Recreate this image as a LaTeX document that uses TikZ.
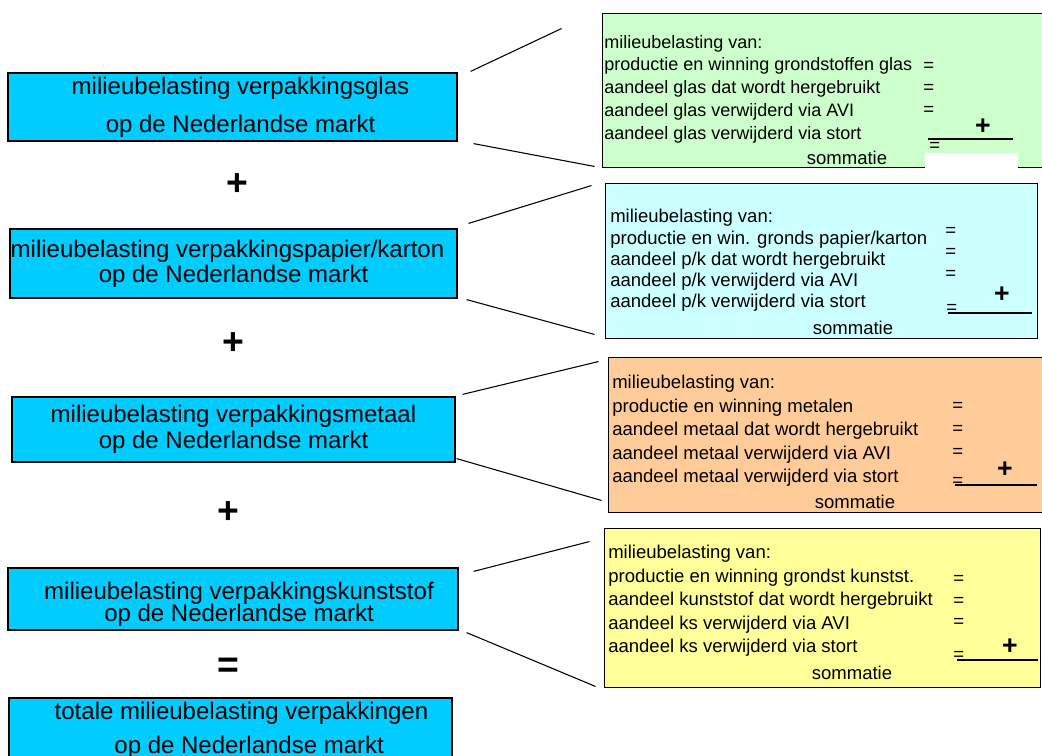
\documentclass[tikz,border=0pt]{standalone}
\usepackage{fontspec}
\setmainfont{Liberation Sans}
\usetikzlibrary{calc}

\definecolor{boxblue}{HTML}{00CCFF}
\definecolor{glasgreen}{HTML}{CCFFCC}
\definecolor{papiercyan}{HTML}{CCFFFF}
\definecolor{metaalorange}{HTML}{FFCC99}
\definecolor{kunstyellow}{HTML}{FFFF99}

\begin{document}
\begin{tikzpicture}[x=0.75pt, y=-0.75pt]
    % Styles for boxes and lines
    \tikzstyle{mainbox} = [rectangle, draw=black, fill=boxblue, line width=0.9pt, align=center, inner sep=0pt]
    \tikzstyle{detailbox} = [rectangle, draw=black, line width=0.7pt, inner sep=0pt]
    \tikzstyle{line} = [line width=0.8pt]
    \tikzstyle{sign} = [inner sep=0pt, font=\fontsize{28pt}{30pt}\selectfont\bfseries]
    \tikzstyle{detail} = [inner sep=0pt, anchor=west, font=\fontsize{13.9pt}{16pt}\selectfont]
    \tikzstyle{eq} = [inner sep=0pt, anchor=west, font=\fontsize{13.9pt}{16pt}\selectfont]
    \tikzstyle{plus} = [inner sep=0pt, font=\fontsize{20pt}{22pt}\selectfont\bfseries]

    \useasboundingbox (0,0) rectangle (1042,756);
    \clip (0,0) rectangle (1042,756);

  % Left column: blue boxes
    \node[mainbox, minimum width=336.75pt, minimum height=51pt, font={\fontsize{18pt}{28.5pt}\selectfont}] (glas) at (232.5,107) {\hspace*{12pt}milieubelasting verpakkingsglas\\\hspace*{12pt}op de Nederlandse markt};
    \node[mainbox, minimum width=335.25pt, minimum height=51.75pt, font={\fontsize{18pt}{18.75pt}\selectfont\lineskiplimit=-6pt}] (papier) at (233.5,263.5) {\hspace*{-9pt}milieubelasting verpakkingspapier/karton\\op de Nederlandse markt};
    \node[mainbox, minimum width=332.25pt, minimum height=48.75pt, font={\fontsize{18pt}{19.5pt}\selectfont\lineskiplimit=-6pt}] (metaal) at (233.5,429.5) {milieubelasting verpakkingsmetaal\\op de Nederlandse markt};
    \node[mainbox, minimum width=337.5pt, minimum height=46.5pt, font={\fontsize{18pt}{16pt}\selectfont\lineskiplimit=-6pt}] (kunststof) at (233,599) {\hspace*{9pt}\raisebox{-4pt}[\height][\depth]{milieubelasting verpakkingskunststof}\\\hspace*{9pt}\raisebox{-4pt}[\height][\depth]{op de Nederlandse markt}};
    \node[mainbox, minimum width=332.25pt, minimum height=48pt, font={\fontsize{18pt}{25.5pt}\selectfont}] (totaal) at (230.5,730) {\hspace*{16.5pt}totale milieubelasting verpakkingen\\\hspace*{28pt}op de Nederlandse markt};

    \node[sign] (plus1) at (237,185) {+};
    \node[sign] (plus2) at (233,344) {+};
    \node[sign] (plus3) at (228,513) {+};
    \node[sign] (gelijk) at (228,668) {=};

  % Right column: detail boxes
    \node[detailbox, fill=glasgreen, minimum width=336pt, minimum height=115.5pt] (glasR) at (826,90) {};
    \node[detailbox, fill=papiercyan, minimum width=324pt, minimum height=116.25pt] (papierR) at (821,260.5) {};
    \node[detailbox, fill=metaalorange, minimum width=331.5pt, minimum height=116.25pt] (metaalR) at (829,434.5) {};
    \node[detailbox, fill=kunstyellow, minimum width=327pt, minimum height=119.25pt] (kunstR) at (822,607.5) {};

  % glas
    \foreach \txt [count=\i] in {milieubelasting van:, productie en winning grondstoffen glas, aandeel glas dat wordt hergebruikt, aandeel glas verwijderd via AVI, aandeel glas verwijderd via stort}
        \node[detail, font=\fontsize{13.5pt}{16pt}\selectfont] (glasT\i) at (604, 43.5+22.75*\i-22.75) {\txt};
    \foreach \y [count=\i] in {67,89,111}
        \node[eq] (glasEq\i) at (923,\y) {=};
    \node[eq] (glasEq4) at (929,147) {=};
    \fill[white] (925,153) rectangle (1018,170);
    \draw[line] (928,139) -- (1013,139);
    \node[plus] (glasPlus) at (983,127) {+};
    \node[detail, anchor=center] (glasSom) at (847,158) {sommatie};

  % papier/karton
    \foreach \txt [count=\i] in {milieubelasting van:, productie en win. gronds papier/karton, aandeel p/k dat wordt hergebruikt, aandeel p/k verwijderd via AVI, aandeel p/k verwijderd via stort}
        \node[detail] (papierT\i) at (610, 218+21.25*\i-21.25) {\txt};
    \foreach \y [count=\i] in {232,253,275}
        \node[eq] (papierEq\i) at (945,\y) {=};
    \node[eq] (papierEq4) at (946,309) {=};
    \draw[line] (948,313) -- (1032,313);
    \node[plus] (papierPlus) at (1002,295) {+};
    \node[detail, anchor=center] (papierSom) at (853,328) {sommatie};

  % metaal
    \foreach \txt [count=\i] in {milieubelasting van:, productie en winning metalen, aandeel metaal dat wordt hergebruikt, aandeel metaal verwijderd via AVI, aandeel metaal verwijderd via stort}
        \node[detail] (metaalT\i) at (612, 384+23.5*\i-23.5) {\txt};
    \foreach \y [count=\i] in {407,430,453}
        \node[eq] (metaalEq\i) at (952,\y) {=};
    \node[eq] (metaalEq4) at (952,482) {=};
    \draw[line] (955,485) -- (1037,485);
    \node[plus] (metaalPlus) at (1005,470) {+};
    \node[detail, anchor=center] (metaalSom) at (855,502) {sommatie};

  % kunststof
    \foreach \txt [count=\i] in {milieubelasting van:, productie en winning grondst kunstst., aandeel kunststof dat wordt hergebruikt, aandeel ks verwijderd via AVI, aandeel ks verwijderd via stort}
        \node[detail] (kunstT\i) at (608, 554+23.5*\i-23.5) {\txt};
    \foreach \y [count=\i] in {580,602,623}
        \node[eq] (kunstEq\i) at (953,\y) {=};
    \node[eq] (kunstEq4) at (953,656) {=};
    \draw[line] (957,660) -- (1038,660);
    \node[plus] (kunstPlus) at (1010,647) {+};
    \node[detail, anchor=center] (kunstSom) at (852,673) {sommatie};

  % Connecting lines
    \draw[line] ($(glas.north east)+(13,-1)$) -- ($(glasR.north west)+(-40,16)$);
    \draw[line] ($(glas.south east)+(16,2)$) -- ($(glasR.south west)+(-7,-1)$);
    \draw[line] ($(papier.north east)+(11,-5)$) -- ($(papierR.north west)+(-13,3)$);
    \draw[line] ($(papier.south east)+(9,1)$) -- ($(papierR.south west)+(-10,-4)$);
    \draw[line] ($(metaal.north east)+(7,-2)$) -- ($(metaalR.north west)+(-9,5)$);
    \draw[line] ($(metaal.south east)+(1,-4)$) -- ($(metaalR.south west)+(-6,-12)$);
    \draw[line] ($(kunststof.north east)+(15,4)$) -- ($(kunstR.north west)+(-14,14)$);
    \draw[line] ($(kunststof.south east)+(8,2)$) -- ($(kunstR.south west)+(-8,-1)$);

\end{tikzpicture}
\end{document}
